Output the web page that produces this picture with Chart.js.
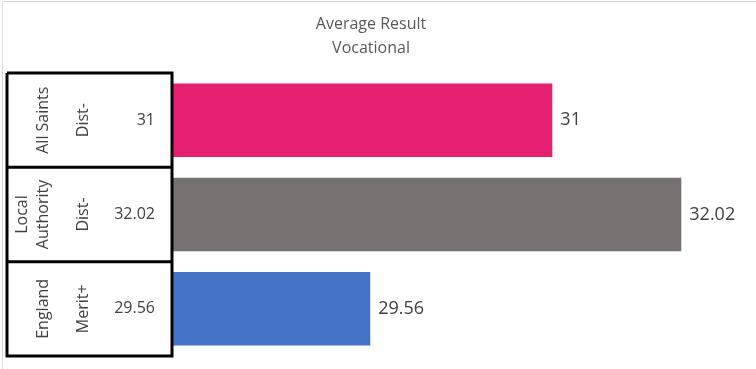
<!DOCTYPE html>
<html>
<head>
<meta charset="utf-8">
<script src="https://cdn.jsdelivr.net/npm/chart.js@4/dist/chart.umd.min.js"></script>
<style>
  html, body { margin: 0; padding: 0; background: #fff; }
  #wrap { width: 756px; height: 369px; }
</style>
</head>
<body>
<div id="wrap"><canvas id="avgResult"></canvas></div>
<script>
// data
var schools = [['All Saints'], ['Local', 'Authority'], ['England']];
var grades = ['Dist-', 'Dist-', 'Merit+'];
var results = [31, 32.02, 29.56];
var titleLines = ['Average Result', 'Vocational'];

var barColors = ['#E61F70', '#757170', '#4472C4'];
var FONT = '"Open Sans", "Noto Sans", sans-serif';

// left side "table": school name | grade | value, with black borders
var tablePlugin = {
	id: 'leftTable',
	beforeDraw: function(chart) {
		var ctx = chart.ctx;
		ctx.save();
		ctx.strokeStyle = '#d9d9d9';
		ctx.lineWidth = 1;
		ctx.beginPath();
		ctx.moveTo(2.5, 2);
		ctx.lineTo(2.5, chart.height);
		ctx.moveTo(2, 1.5);
		ctx.lineTo(chart.width, 1.5);
		ctx.stroke();
		ctx.restore();
	},
	afterDraw: function(chart) {
		var ctx = chart.ctx;
		var area = chart.chartArea;
		var y = chart.scales.y;
		var half = (y.getPixelForValue(1) - y.getPixelForValue(0)) / 2;
		var left = 7;
		var right = area.left - 1;

		ctx.save();
		ctx.strokeStyle = '#000';
		ctx.lineWidth = 3;
		ctx.beginPath();
		ctx.moveTo(left, area.top);
		ctx.lineTo(right, area.top);
		ctx.lineTo(right, area.bottom);
		ctx.lineTo(left, area.bottom);
		ctx.lineTo(left, area.top);
		for (var i = 1; i < schools.length; i++) {
			var yy = y.getPixelForValue(i) - half;
			ctx.moveTo(left, yy);
			ctx.lineTo(right, yy);
		}
		ctx.stroke();

		ctx.fillStyle = '#404040';
		for (var j = 0; j < schools.length; j++) {
			var cy = y.getPixelForValue(j);
			var name = schools[j];
			ctx.font = '16px ' + FONT;
			ctx.textAlign = 'center';
			ctx.textBaseline = 'middle';
			var baseX = name.length > 1 ? 22 : 43;
			for (var k = 0; k < name.length; k++) {
				ctx.save();
				ctx.translate(baseX + k * 21, cy);
				ctx.rotate(-Math.PI / 2);
				ctx.fillText(name[k], 0, 0);
				ctx.restore();
			}
			ctx.save();
			ctx.translate(83, cy);
			ctx.rotate(-Math.PI / 2);
			ctx.fillText(grades[j], 0, 0);
			ctx.restore();

			ctx.font = '16px ' + FONT;
			ctx.textAlign = 'right';
			ctx.fillText(String(results[j]), 155, cy);
		}
		ctx.restore();
	},
	afterDatasetsDraw: function(chart) {
		var ctx = chart.ctx;
		var meta = chart.getDatasetMeta(0);
		ctx.save();
		ctx.font = '18px ' + FONT;
		ctx.fillStyle = '#404040';
		ctx.textAlign = 'left';
		ctx.textBaseline = 'middle';
		meta.data.forEach(function(bar, i) {
			ctx.fillText(String(results[i]), bar.x + 8, bar.y);
		});
		ctx.restore();
	}
};

var context = document.getElementById('avgResult').getContext('2d');
var myChart = new Chart(context, {
	type: 'bar',
	data: {
		labels: schools.map(function(s) { return s.join(' '); }),
		datasets: [{
			data: results,
			backgroundColor: barColors,
			borderWidth: 0,
			categoryPercentage: 0.78,
			barPercentage: 1
		}]
	},
	options: {
		indexAxis: 'y',
		responsive: true,
		maintainAspectRatio: false,
		animation: false,
		layout: {
			padding: { top: 0, right: 14, bottom: 13, left: 0 }
		},
		scales: {
			x: {
				display: false,
				min: 28,
				max: 32.5
			},
			y: {
				display: true,
				grid: { display: false },
				border: { display: false },
				ticks: { display: false },
				afterFit: function(scale) { scale.width = 173; }
			}
		},
		plugins: {
			legend: { display: false },
			tooltip: { enabled: false },
			title: {
				display: true,
				text: titleLines,
				color: '#595959',
				font: { family: FONT, size: 16, weight: 'normal', lineHeight: 1.5 },
				padding: { top: 12, bottom: 13 }
			}
		}
	},
	plugins: [tablePlugin]
});
</script>
</body>
</html>
